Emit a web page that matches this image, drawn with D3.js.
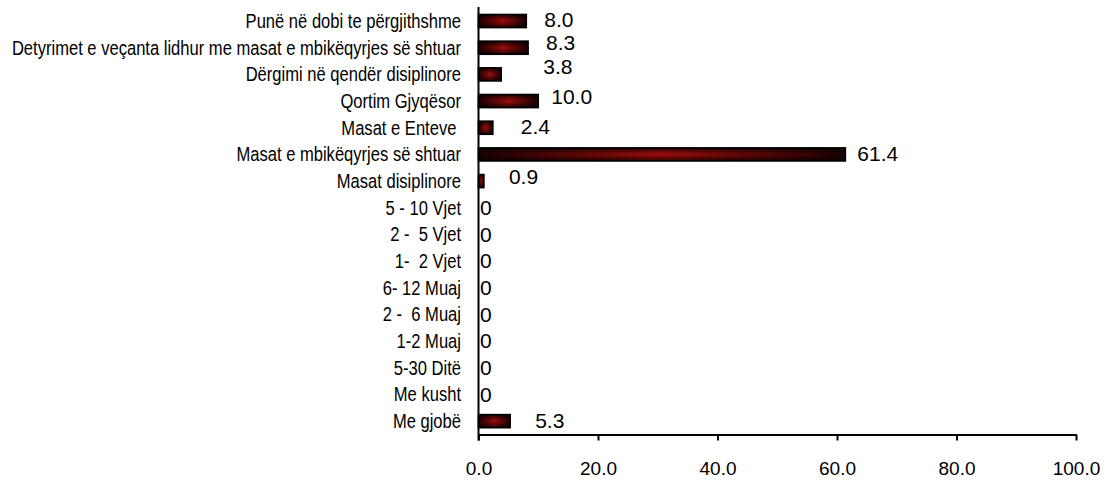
<!DOCTYPE html>
<html>
<head>
<meta charset="utf-8">
<script src="https://cdn.jsdelivr.net/npm/d3@7"></script>
<style>
  html, body { margin: 0; padding: 0; background: #fff; }
  svg { display: block; }
</style>
</head>
<body>
<svg id="chart" width="1110" height="482"></svg>
<script>
// ---- data ----
const categories = [
  "Punë në dobi te përgjithshme",
  "Detyrimet e veçanta lidhur me masat e mbikëqyrjes së shtuar",
  "Dërgimi në qendër disiplinore",
  "Qortim Gjyqësor",
  "Masat e Enteve ",
  "Masat e mbikëqyrjes së shtuar",
  "Masat disiplinore",
  "5 - 10 Vjet",
  "2 -  5 Vjet",
  "1-  2 Vjet",
  "6- 12 Muaj",
  "2 -  6 Muaj",
  "1-2 Muaj",
  "5-30 Ditë",
  "Me kusht",
  "Me gjobë"
];
const values = [8.0, 8.3, 3.8, 10.0, 2.4, 61.4, 0.9, 0, 0, 0, 0, 0, 0, 0, 0, 5.3];
const valueLabels = ["8.0", "8.3", "3.8", "10.0", "2.4", "61.4", "0.9", "0", "0", "0", "0", "0", "0", "0", "0", "5.3"];
const xTicks = [0, 20, 40, 60, 80, 100];

// ---- layout (label nudges as placed in the original) ----
const labelDx = [18, 18, 42, 13, 28, 12, 25, 1.5, 1.5, 1.5, 1.5, 1.5, 1.5, 1.5, 1.5, 25];
const labelDy = [-1, -5, -8, -4, -1, -1, -4, 0, 0, 0, 0, 0, 0, 0, 0, -1];

const svg = d3.select("#chart");
const x = d3.scaleLinear().domain([0, 100]).range([478.5, 1076]);
const y = d3.scaleBand().domain(categories).range([7.7, 434.5])
  .paddingInner(0.51).paddingOuter(0.255);

const defs = svg.append("defs");
const gH = defs.append("linearGradient").attr("id", "gH")
  .attr("x1", 0).attr("x2", 1).attr("y1", 0).attr("y2", 0);
gH.append("stop").attr("offset", "0%").attr("stop-color", "#1e0000");
gH.append("stop").attr("offset", "50%").attr("stop-color", "#a00d0d");
gH.append("stop").attr("offset", "100%").attr("stop-color", "#1e0000");
const gV = defs.append("linearGradient").attr("id", "gV")
  .attr("x1", 0).attr("x2", 0).attr("y1", 0).attr("y2", 1);
gV.append("stop").attr("offset", "0%").attr("stop-color", "#000").attr("stop-opacity", 0.75);
gV.append("stop").attr("offset", "50%").attr("stop-color", "#000").attr("stop-opacity", 0);
gV.append("stop").attr("offset", "100%").attr("stop-color", "#000").attr("stop-opacity", 0.75);

const data = categories.map((c, i) => ({ c, v: values[i], label: valueLabels[i], dx: labelDx[i], dy: labelDy[i] }));
const barData = data.filter(d => d.v > 0);

// bars
const bars = svg.append("g");
bars.selectAll("rect.base").data(barData).join("rect")
  .attr("class", "base")
  .attr("x", x(0))
  .attr("y", d => y(d.c))
  .attr("width", d => x(d.v) - x(0))
  .attr("height", y.bandwidth())
  .attr("fill", "url(#gH)");
bars.selectAll("rect.shade").data(barData).join("rect")
  .attr("class", "shade")
  .attr("x", x(0))
  .attr("y", d => y(d.c))
  .attr("width", d => x(d.v) - x(0))
  .attr("height", y.bandwidth())
  .attr("fill", "url(#gV)")
  .attr("stroke", "#000")
  .attr("stroke-width", 1.6);

// x axis
const xAxis = d3.axisBottom(x).tickValues(xTicks).tickFormat(d3.format(".1f"))
  .tickSize(6).tickSizeOuter(0).tickPadding(21);
const gx = svg.append("g").attr("transform", `translate(0,${434.5})`).call(xAxis);
gx.select(".domain").attr("stroke", "#000").attr("stroke-width", 2);
gx.selectAll(".tick line").attr("stroke", "#000").attr("stroke-width", 2);
gx.selectAll(".tick text").attr("fill", "#000")
  .style("font-family", "'Liberation Sans', Arial, sans-serif").style("font-size", "19px");

// y axis line
svg.append("line").attr("x1", x(0)).attr("x2", x(0)).attr("y1", 7).attr("y2", 440.5)
  .attr("stroke", "#000").attr("stroke-width", 2);

// category labels (condensed look)
svg.append("g").selectAll("text").data(data).join("text")
  .attr("transform", d => `translate(461,${y(d.c) + y.bandwidth() / 2}) scale(0.85,1)`)
  .attr("dy", "0.35em")
  .attr("text-anchor", "end")
  .style("white-space", "pre")
  .style("font-family", "'Liberation Sans', Arial, sans-serif")
  .style("font-size", "19.5px")
  .attr("fill", "#000")
  .text(d => d.c);

// value labels
svg.append("g").selectAll("text").data(data).join("text")
  .attr("x", d => x(d.v) + d.dx)
  .attr("y", d => y(d.c) + y.bandwidth() / 2 + d.dy)
  .attr("dy", "0.35em")
  .style("font-family", "'Liberation Sans', Arial, sans-serif")
  .style("font-size", "21px")
  .attr("fill", "#000")
  .text(d => d.label);
</script>
</body>
</html>
